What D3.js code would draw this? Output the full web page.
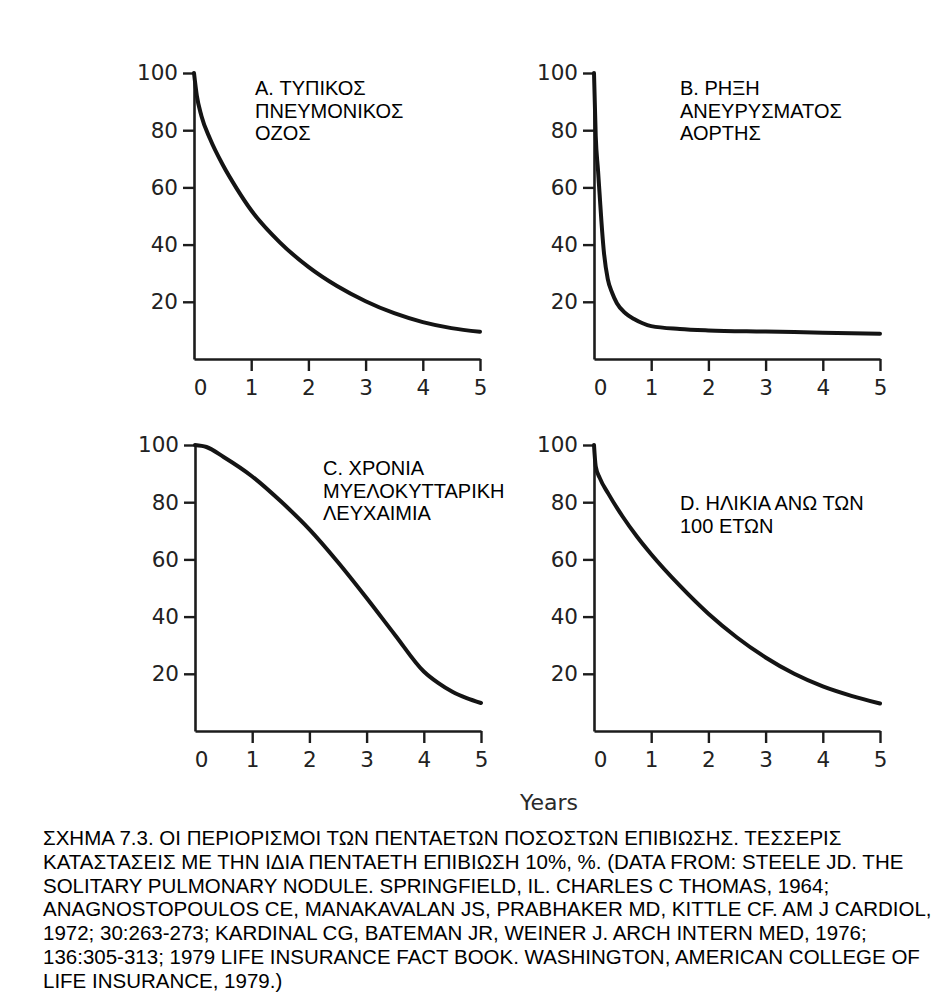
<!DOCTYPE html>
<html>
<head>
<meta charset="utf-8">
<script src="https://cdnjs.cloudflare.com/ajax/libs/d3/7.8.5/d3.min.js"></script>
<style>
  body { margin: 0; background: #fff; }
  svg { display: block; }
</style>
</head>
<body>
<script>
//survival data (years, % surviving)
var yearsA = [0, 0.05, 0.13, 0.28, 0.5, 0.75, 1, 1.5, 2, 2.5, 3, 3.5, 4, 4.5, 5];
var survA  = [100, 92, 85, 77, 68, 59.5, 52, 40.8, 32.2, 25.5, 20.2, 16, 12.9, 10.8, 9.5];

var yearsB = [0, 0.03, 0.07, 0.1, 0.13, 0.17, 0.24, 0.32, 0.4, 0.55, 0.7, 0.85, 1, 1.5, 2, 3, 4, 5];
var survB  = [100, 78, 66, 57, 48, 38, 28, 23, 19.5, 16, 14, 12.5, 11.5, 10.5, 10, 9.6, 9.2, 8.8];

var yearsC = [0, 0.2, 0.5, 1, 1.5, 2, 2.5, 3, 3.5, 4, 4.25, 4.5, 4.75, 5];
var survC  = [100, 99.3, 95.8, 89, 80.3, 70.5, 59, 46.5, 33.5, 20.8, 16.8, 13.7, 11.5, 9.8];

var yearsD = [0, 0.03, 0.1, 0.25, 0.5, 0.75, 1, 1.5, 2, 2.5, 3, 3.5, 4, 4.5, 5];
var survD  = [100, 92.5, 88.5, 83, 75, 68, 61.8, 50.8, 41, 32.7, 25.7, 20, 15.6, 12.3, 9.6];

var xTicks = [0, 1, 2, 3, 4, 5];
var yTicks = [20, 40, 60, 80, 100];

var labelsA = ["A. ΤΥΠΙΚΟΣ", "ΠΝΕΥΜΟΝΙΚΟΣ", "ΟΖΟΣ"];
var labelsB = ["B. ΡΗΞΗ", "ΑΝΕΥΡΥΣΜΑΤΟΣ", "ΑΟΡΤΗΣ"];
var labelsC = ["C. ΧΡΟΝΙΑ", "ΜΥΕΛΟΚΥΤΤΑΡΙΚΗ", "ΛΕΥΧΑΙΜΙΑ"];
var labelsD = ["D. ΗΛΙΚΙΑ ΑΝΩ ΤΩΝ", "100 ΕΤΩΝ"];

var xTitle = "Years";

var captionLines = [
  "ΣΧΗΜΑ 7.3. ΟΙ ΠΕΡΙΟΡΙΣΜΟΙ ΤΩΝ ΠΕΝΤΑΕΤΩΝ ΠΟΣΟΣΤΩΝ ΕΠΙΒΙΩΣΗΣ. ΤΕΣΣΕΡΙΣ",
  "ΚΑΤΑΣΤΑΣΕΙΣ ΜΕ ΤΗΝ ΙΔΙΑ ΠΕΝΤΑΕΤΗ ΕΠΙΒΙΩΣΗ 10%, %. (DATA FROM: STEELE JD. THE",
  "SOLITARY PULMONARY NODULE. SPRINGFIELD, IL. CHARLES C THOMAS, 1964;",
  "ANAGNOSTOPOULOS CE, MANAKAVALAN JS, PRABHAKER MD, KITTLE CF. AM J CARDIOL,",
  "1972; 30:263-273; KARDINAL CG, BATEMAN JR, WEINER J. ARCH INTERN MED, 1976;",
  "136:305-313; 1979 LIFE INSURANCE FACT BOOK. WASHINGTON, AMERICAN COLLEGE OF",
  "LIFE INSURANCE, 1979.)"
];

//canvas
var width = 941,
    height = 997;

var svg = d3.select("body").append("svg")
    .attr("width", width)
    .attr("height", height);

//where each panel sits: x of year 0, y of 100%, label anchor
var panels = [
  {years: yearsA, surv: survA, labels: labelsA, left: 194, top: 73,  lx: 255, ly: 95},
  {years: yearsB, surv: survB, labels: labelsB, left: 594, top: 73,  lx: 680, ly: 95},
  {years: yearsC, surv: survC, labels: labelsC, left: 195, top: 445, lx: 323, ly: 475},
  {years: yearsD, surv: survD, labels: labelsD, left: 594, top: 445, lx: 680, ly: 510}
];

var plotW = 286,
    plotH = 286;

var tickFont = "'DejaVu Sans', sans-serif";
var textFont = "'Liberation Sans', Arial, sans-serif";

panels.forEach(function(p) {
  var x = d3.scaleLinear().domain([0, 5]).range([p.left, p.left + plotW]);
  var y = d3.scaleLinear().domain([0, 100]).range([p.top + plotH, p.top]);

  var g = svg.append("g");

  //y axis
  var ya = g.append("g")
      .attr("transform", "translate(" + p.left + ",0)")
      .call(d3.axisLeft(y).tickValues(yTicks).tickSize(11).tickSizeOuter(0).tickPadding(5));
  ya.select(".domain").attr("stroke", "#1c1c1c").attr("stroke-width", 2.6);
  ya.selectAll(".tick line").attr("stroke", "#1c1c1c").attr("stroke-width", 2.4);
  ya.selectAll(".tick text")
      .attr("font-family", tickFont)
      .attr("font-size", 21.5)
      .attr("fill", "#222");

  //x axis
  var xa = g.append("g")
      .attr("transform", "translate(0," + (p.top + plotH) + ")")
      .call(d3.axisBottom(x).tickValues(xTicks).tickFormat(d3.format("d"))
        .tickSize(12).tickSizeOuter(0).tickPadding(9));
  xa.select(".domain").attr("stroke", "#1c1c1c").attr("stroke-width", 2.6);
  xa.selectAll(".tick line").attr("stroke", "#1c1c1c").attr("stroke-width", 2.4);
  xa.selectAll(".tick").filter(function(d) { return d === 0; }).select("line").remove();
  xa.selectAll(".tick text")
      .attr("font-family", tickFont)
      .attr("font-size", 21.5)
      .attr("fill", "#222")
      .attr("dx", function(d) { return d === 0 ? 6 : 0; });

  //survival curve
  var line = d3.line()
      .x(function(d) { return x(d[0]); })
      .y(function(d) { return y(d[1]); })
      .curve(d3.curveMonotoneX);

  g.append("path")
      .datum(d3.zip(p.years, p.surv))
      .attr("fill", "none")
      .attr("stroke", "#141414")
      .attr("stroke-width", 4)
      .attr("stroke-linejoin", "round")
      .attr("stroke-linecap", "round")
      .attr("d", line);

  //panel title
  g.append("text")
      .attr("x", p.lx)
      .attr("y", p.ly)
      .attr("font-family", textFont)
      .attr("font-size", 20)
      .attr("fill", "#000")
    .selectAll("tspan")
    .data(p.labels).enter().append("tspan")
      .attr("x", p.lx)
      .attr("dy", function(d, i) { return i === 0 ? 0 : 22.7; })
      .text(function(d) { return d; });
});

//x title under the bottom row
svg.append("text")
    .attr("x", 520)
    .attr("y", 810)
    .attr("font-family", tickFont)
    .attr("font-size", 22)
    .attr("fill", "#2a2a2a")
    .text(xTitle);

//caption
svg.append("g").selectAll("text")
    .data(captionLines).enter().append("text")
    .attr("x", 43)
    .attr("y", function(d, i) { return 845 + i * 23.8; })
    .attr("font-family", textFont)
    .attr("font-size", 20.5)
    .attr("fill", "#000")
    .text(function(d) { return d; });
</script>
</body>
</html>
